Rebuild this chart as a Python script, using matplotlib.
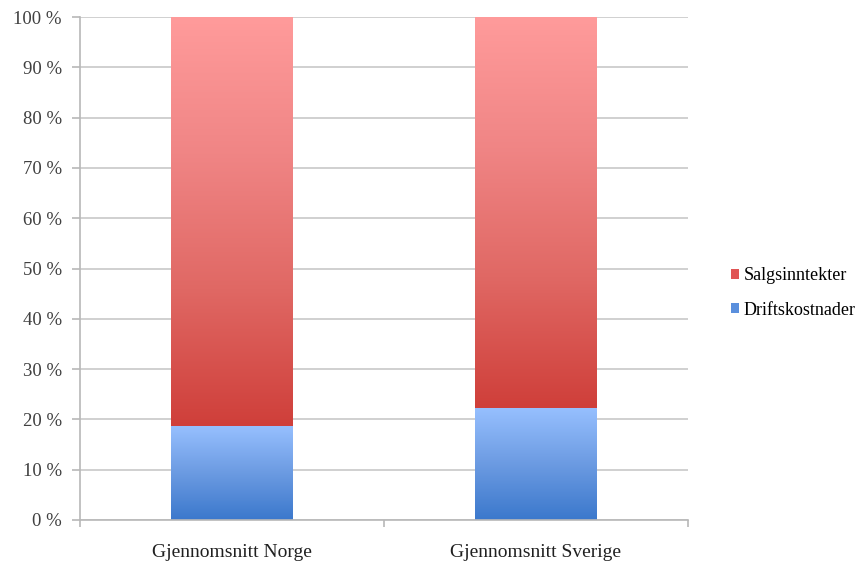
import numpy as np
import matplotlib
matplotlib.use("Agg")
import matplotlib.pyplot as plt
from matplotlib.colors import LinearSegmentedColormap
from matplotlib.patches import Patch

categories = ["Gjennomsnitt Norge", "Gjennomsnitt Sverige"]
driftskostnader = [18.7, 22.3]
salgsinntekter = [100 - v for v in driftskostnader]
yticks = list(range(0, 101, 10))
ytick_labels = [f"{t} %" for t in yticks]

plt.rcParams["font.family"] = ["Liberation Serif", "DejaVu Serif"]

fig = plt.figure(figsize=(8.61, 5.62), dpi=100)
ax = fig.add_axes([80 / 861, 42 / 562, 608 / 861, 503 / 562])

x = np.arange(len(categories))
width = 0.40

blue_cmap = LinearSegmentedColormap.from_list("blue", ["#3B78CC", "#6C9BE2", "#97C0FF"])
red_cmap = LinearSegmentedColormap.from_list("red", ["#CF3F3A", "#E06864", "#F08585", "#FF9B9B"])

grad = np.linspace(0, 1, 256).reshape(-1, 1)

blue_bars = ax.bar(x, driftskostnader, width, color="none", zorder=3)
red_bars = ax.bar(x, salgsinntekter, width, bottom=driftskostnader, color="none", zorder=3)

for bars, cmap in ((blue_bars, blue_cmap), (red_bars, red_cmap)):
    for rect in bars:
        x0, y0 = rect.get_x(), rect.get_y()
        w, h = rect.get_width(), rect.get_height()
        im = ax.imshow(grad, cmap=cmap, origin="lower", aspect="auto",
                       extent=(x0, x0 + w, y0, y0 + h), zorder=2,
                       interpolation="bicubic")
        im.set_clip_path(rect)

ax.set_xlim(-0.5, len(categories) - 0.5)
ax.set_ylim(0, 100)
ax.set_yticks(yticks)
ax.set_yticklabels(ytick_labels, fontsize=13.5, color="#404040")
ax.yaxis.grid(True, color="#C8C8C8", linewidth=1.2, zorder=0)
ax.set_axisbelow(True)

ax.set_xticks(x)
ax.set_xticklabels(categories, fontsize=14, color="#202020")
ax.tick_params(axis="x", length=0, pad=17)
ax.set_xticks([-0.5, 0.5, 1.5], minor=True)
ax.tick_params(axis="x", which="minor", length=5, color="#B8B8B8", width=1.2)
ax.tick_params(axis="y", length=6, color="#B8B8B8", width=1.2, pad=7)

for side in ("top", "right"):
    ax.spines[side].set_visible(False)
for side in ("left", "bottom"):
    ax.spines[side].set_color("#B8B8B8")
    ax.spines[side].set_linewidth(1.2)

handles = [Patch(facecolor="#E05555", label="Salgsinntekter"),
           Patch(facecolor="#5A8FDD", label="Driftskostnader")]
fig.legend(handles=handles, loc="center left", bbox_to_anchor=(722 / 861, 1 - 293 / 562),
           frameon=False, fontsize=13, handlelength=0.45, handleheight=0.45,
           handletextpad=0.25, labelspacing=0.95, borderpad=0)

fig.savefig("out.png", dpi=100)
